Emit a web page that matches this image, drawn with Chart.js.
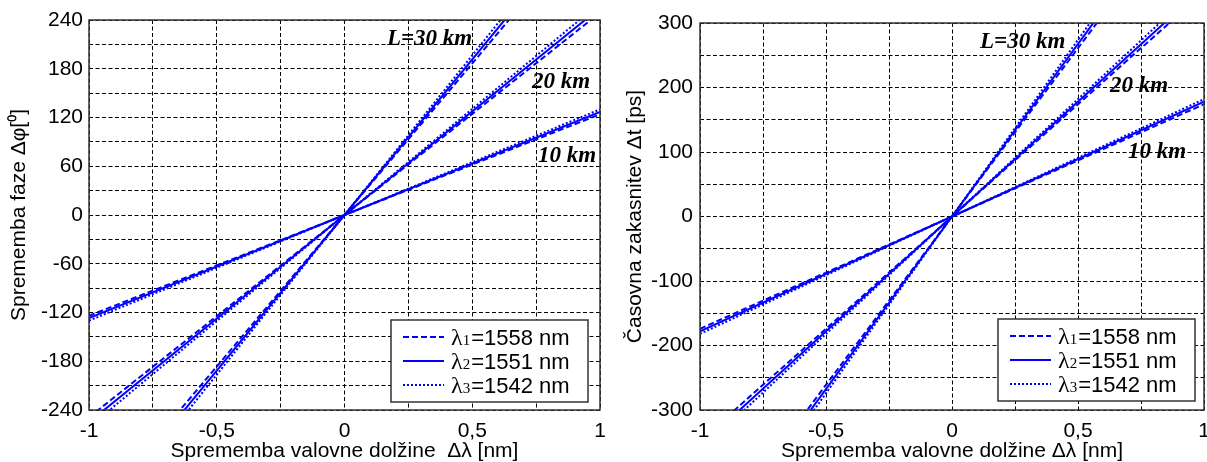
<!DOCTYPE html>
<html>
<head>
<meta charset="utf-8">
<script src="https://cdn.jsdelivr.net/npm/chart.js@4.4.1/dist/chart.umd.min.js"></script>
<style>
  html, body { margin: 0; padding: 0; background: #fff; }
  #wrap { position: relative; width: 1207px; height: 462px; overflow: hidden; }
  .box { position: absolute; top: 0; height: 462px; }
</style>
</head>
<body>
<div id="wrap">
  <div class="box" style="left:0;width:615px"><canvas id="phaseChart"></canvas></div>
  <div class="box" style="left:603px;width:604px"><canvas id="delayChart"></canvas></div>
</div>
<script>
// wavelength change [nm]
const dLambda = [-1, 0, 1];

// phase change [deg] for L = 10, 20, 30 km (1558 / 1551 / 1542 nm)
const phase10_1558 = [-124, 0, 124];
const phase10_1551 = [-127, 0, 127];
const phase10_1542 = [-130, 0, 130];
const phase20_1558 = [-249, 0, 249];
const phase20_1551 = [-255, 0, 255];
const phase20_1542 = [-261, 0, 261];
const phase30_1558 = [-373, 0, 373];
const phase30_1551 = [-383, 0, 383];
const phase30_1542 = [-393, 0, 393];

// time delay [ps]
const delay10_1558 = [-174, 0, 174];
const delay10_1551 = [-178, 0, 178];
const delay10_1542 = [-182, 0, 182];
const delay20_1558 = [-348, 0, 348];
const delay20_1551 = [-356, 0, 356];
const delay20_1542 = [-364, 0, 364];
const delay30_1558 = [-522, 0, 522];
const delay30_1551 = [-535, 0, 535];
const delay30_1542 = [-548, 0, 548];

// legend
const wavelengths = ['1558', '1551', '1542'];
const lambdaIndex = ['1', '2', '3'];

// tick labels
const xTickLabels = [-1, -0.5, 0, 0.5, 1];
const phaseTickLabels = [-240, -180, -120, -60, 0, 60, 120, 180, 240];
const delayTickLabels = [-300, -200, -100, 0, 100, 200, 300];

// fibre length labels
const lengthLabels = ['L=30 km', '20 km', '10 km'];

const BLUE = '#0000ff';
const lineDash = [[6, 3], [], [2, 2]];

Chart.defaults.font.family = '"Liberation Sans", Arial, sans-serif';
Chart.defaults.font.size = 21;
Chart.defaults.color = '#000';

const decor = {
  id: 'decor',
  afterDatasetsDraw(chart, args, opts) {
    const { ctx, chartArea: a } = chart;
    const x = chart.scales.x, y = chart.scales.y;
    ctx.save();
    ctx.setLineDash([]);
    ctx.strokeStyle = '#333';
    ctx.lineWidth = 1.5;
    ctx.strokeRect(a.left, a.top, a.right - a.left, a.bottom - a.top);

    // L = ... labels
    ctx.fillStyle = '#000';
    ctx.textAlign = 'left';
    ctx.textBaseline = 'alphabetic';
    ctx.font = 'italic bold 23px "Liberation Serif", serif';
    lengthLabels.forEach((t, i) => {
      const p = opts.labelPos[i];
      ctx.fillText(t, x.getPixelForValue(p[0]), y.getPixelForValue(p[1]));
    });

    // legend box
    const bw = 197, bh = 82;
    const bx = a.right - opts.legendRight - bw;
    const by = a.bottom - opts.legendBottom - bh;
    ctx.fillStyle = '#fff';
    ctx.fillRect(bx, by, bw, bh);
    ctx.strokeStyle = '#333';
    ctx.lineWidth = 1.5;
    ctx.strokeRect(bx, by, bw, bh);
    wavelengths.forEach((wl, i) => {
      const ry = by + 17 + i * 24;
      ctx.strokeStyle = BLUE;
      ctx.lineWidth = 2;
      ctx.setLineDash(lineDash[i]);
      ctx.beginPath();
      ctx.moveTo(bx + 12, ry);
      ctx.lineTo(bx + 53, ry);
      ctx.stroke();
      ctx.setLineDash([]);
      ctx.fillStyle = '#000';
      const base = ry + 8;
      let tx = bx + 60;
      ctx.font = '24px "Liberation Serif", serif';
      ctx.fillText('λ', tx, base);
      tx += ctx.measureText('λ').width;
      ctx.font = '15px "Liberation Serif", serif';
      ctx.fillText(lambdaIndex[i], tx, base);
      tx += ctx.measureText(lambdaIndex[i]).width + 1;
      ctx.font = '22px "Liberation Sans", Arial, sans-serif';
      ctx.fillText('=' + wl + ' nm', tx, base);
    });
    ctx.restore();
  }
};

function makeChart(id, groups, g) {
  const datasets = [];
  groups.forEach((group) => {
    group.forEach((values, i) => {
      datasets.push({
        data: dLambda.map((v, k) => ({ x: v, y: values[k] })),
        borderColor: BLUE,
        borderWidth: 2,
        borderDash: lineDash[i],
        pointRadius: 0,
        fill: false,
        tension: 0,
      });
    });
  });

  return new Chart(document.getElementById(id), {
    type: 'line',
    data: { datasets },
    plugins: [decor],
    options: {
      responsive: true,
      maintainAspectRatio: false,
      animation: false,
      events: [],
      layout: { padding: { left: 0, top: g.top, right: g.right, bottom: 0 } },
      plugins: {
        legend: { display: false },
        tooltip: { enabled: false },
        decor: {
          labelPos: g.labelPos,
          legendRight: g.legendRight,
          legendBottom: g.legendBottom,
        },
      },
      scales: {
        x: {
          type: 'linear',
          min: -1,
          max: 1,
          afterFit(s) {
            s.height = 52;
            s.paddingLeft = 0;
            s.paddingRight = 0;
          },
          ticks: {
            stepSize: 0.25,
            autoSkip: false,
            maxRotation: 0,
            padding: 9,
            callback: (v) => (xTickLabels.includes(v) ? String(v).replace('.', ',') : ''),
          },
          grid: { color: '#000', lineWidth: 1, drawTicks: false },
          border: { display: false, dash: [4, 2.5] },
          title: {
            display: true,
            text: g.xTitle,
            font: { size: 21, lineHeight: 1 },
            padding: { top: 0, bottom: 0 },
          },
        },
        y: {
          min: g.yMin,
          max: g.yMax,
          afterFit(s) {
            s.width = g.yWidth;
            s.paddingTop = 0;
            s.paddingBottom = 0;
          },
          ticks: {
            stepSize: g.yStep,
            autoSkip: false,
            padding: g.yTickPad,
            callback: (v) => (g.yLabels.includes(v) ? String(v) : ''),
          },
          grid: { color: '#000', lineWidth: 1, drawTicks: false },
          border: { display: false, dash: [4, 2.5] },
          title: {
            display: true,
            text: g.yTitle,
            font: { size: 21, lineHeight: 1 },
            padding: { top: g.yTitlePad, bottom: 0 },
          },
        },
      },
    },
  });
}

makeChart('phaseChart', [
  [phase10_1558, phase10_1551, phase10_1542],
  [phase20_1558, phase20_1551, phase20_1542],
  [phase30_1558, phase30_1551, phase30_1542],
], {
  yMin: -240, yMax: 240, yStep: 30, yLabels: phaseTickLabels,
  yWidth: 89, yTickPad: 6, yTitlePad: 9, top: 20, right: 15,
  yTitle: 'Sprememba faze Δφ[⁰]',
  xTitle: 'Sprememba valovne dolžine  Δλ [nm]',
  labelPos: [[0.166, 209], [0.734, 156], [0.757, 65]],
  legendRight: 12, legendBottom: 8,
});

makeChart('delayChart', [
  [delay10_1558, delay10_1551, delay10_1542],
  [delay20_1558, delay20_1551, delay20_1542],
  [delay30_1558, delay30_1551, delay30_1542],
], {
  yMin: -300, yMax: 300, yStep: 50, yLabels: delayTickLabels,
  yWidth: 97, yTickPad: 7, yTitlePad: 22, top: 23, right: 3,
  yTitle: 'Časovna zakasnitev Δt [ps]',
  xTitle: 'Sprememba valovne dolžine Δλ [nm]',
  labelPos: [[0.111, 261], [0.627, 193], [0.698, 91]],
  legendRight: 9, legendBottom: 9,
});
</script>
</body>
</html>
